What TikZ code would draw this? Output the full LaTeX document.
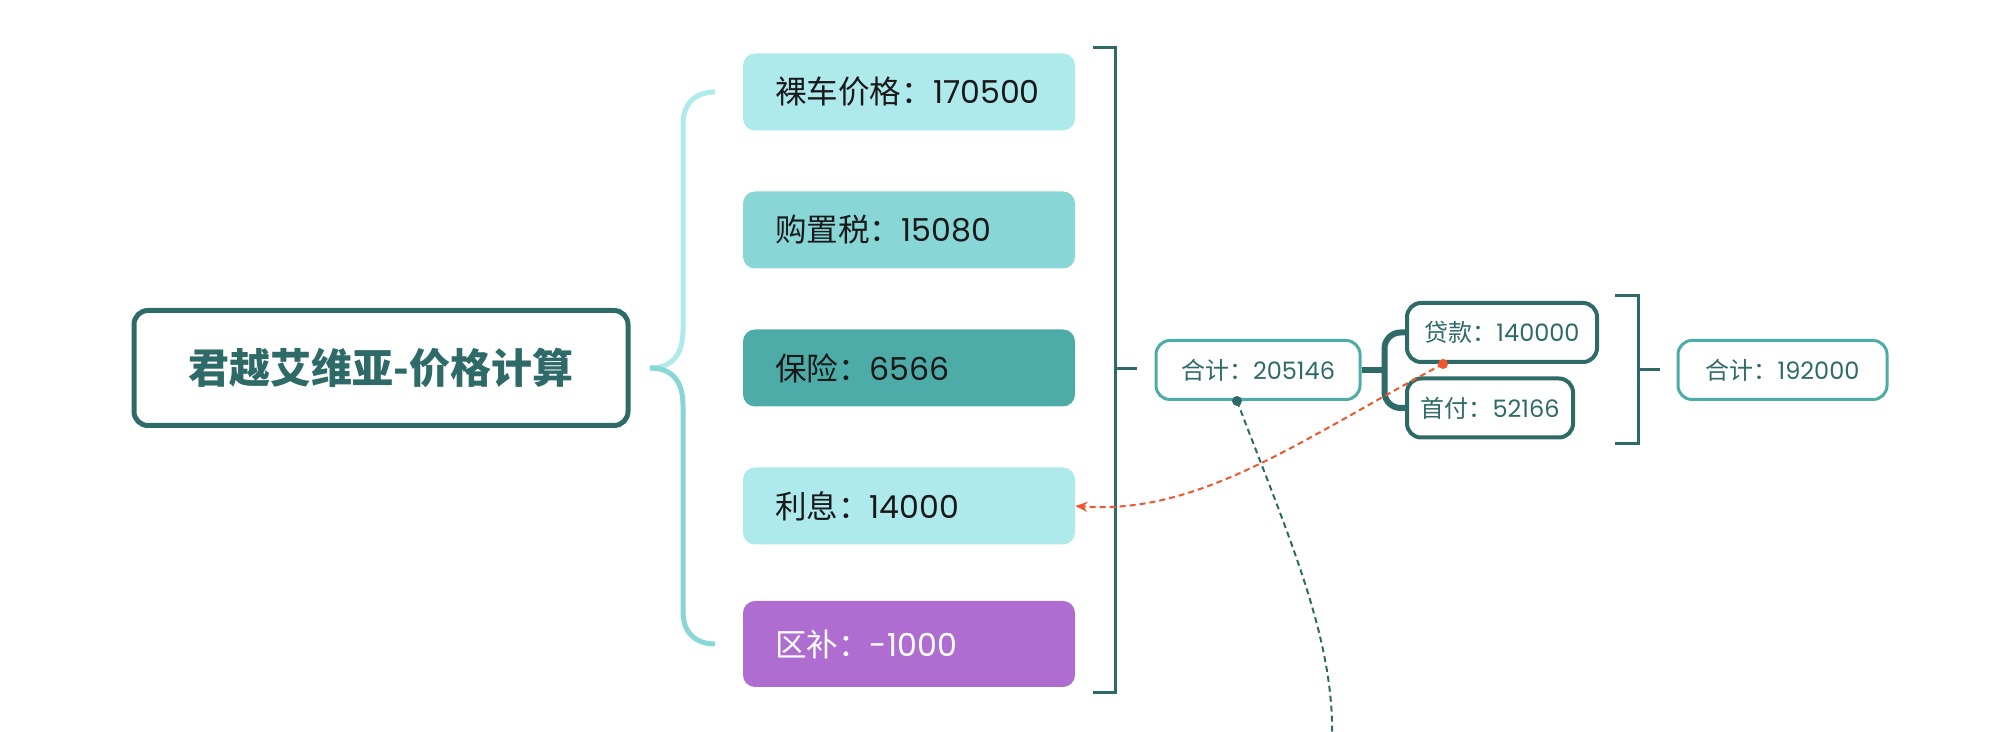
\documentclass[tikz,border=0pt]{standalone}
\usepackage{fontspec}
\setmainfont{Poppins}
\newfontfamily\cjk{Noto Sans CJK SC}
\usetikzlibrary{arrows.meta,calc}
\definecolor{deepteal}{HTML}{2E6A67}
\definecolor{midteal}{HTML}{4EACA8}
\definecolor{paleaqua}{HTML}{AEE9EC}
\definecolor{softaqua}{HTML}{88D6D6}
\definecolor{lilac}{HTML}{B06DD1}
\definecolor{linkred}{HTML}{F0552B}
\tikzstyle{root} = [rectangle, draw=deepteal, line width=2.5pt, rounded corners=7pt,
    minimum width=247pt, minimum height=57.5pt, text=deepteal,
    font=\fontsize{20.5pt}{24pt}\selectfont\cjk\bfseries]
\tikzstyle{cost} = [rectangle, rounded corners=6pt, text width=134pt, inner xsep=16pt,
    minimum height=38.5pt, align=left, text=black!90, font=\fontsize{15.8pt}{18pt}\selectfont]
\tikzstyle{total} = [rectangle, draw=midteal, line width=1.5pt, rounded corners=7pt,
    minimum height=29.5pt, inner xsep=0pt, text=deepteal, font=\fontsize{12pt}{14pt}\selectfont]
\tikzstyle{part} = [total, draw=deepteal, line width=2pt]
\tikzstyle{link} = [line width=1pt, dash pattern=on 3pt off 2pt]

\begin{document}
\begin{tikzpicture}[x=0.5pt,y=0.5pt,node distance=69pt,line cap=butt]
  \useasboundingbox (0,0) rectangle (2002,732);

  \node[root]                     (car)  at (381,364)       {君越艾维亚-价格计算};

  \node[cost, fill=paleaqua]      (bare) at (909,640)       {{\cjk 裸车价格：}170500};
  \node[cost, fill=softaqua]      (tax)  [below of=bare]    {{\cjk 购置税：}15080};
  \node[cost, fill=midteal]       (ins)  [below of=tax]     {{\cjk 保险：}6566};
  \node[cost, fill=paleaqua]      (interest) [below of=ins] {{\cjk 利息：}14000};
  \node[cost, fill=lilac, text=white, minimum height=43pt] (rebate) [below of=interest] {{\cjk 区补：}-1000};

  \node[total, minimum width=102pt]   (sum1) at (1258,362)  {{\cjk 合计：}205146};
  \node[part, minimum width=95pt]     (loan) at (1502,399.5) {{\cjk 贷款：}140000};
  \node[part, minimum width=83pt]     (down) at (1490,324)  {{\cjk 首付：}52166};
  \node[total, minimum width=104.5pt] (sum2) at (1782.5,362) {{\cjk 合计：}192000};

  \draw[paleaqua, line width=2.5pt] (715,640) .. controls (695,640) and (683,628) .. (683,608)
        -- (683,402) .. controls (683,375) and (670,364) .. (650,364);
  \draw[softaqua, line width=2.5pt] (650,364) .. controls (670,364) and (683,353) .. (683,327)
        -- (683,120) .. controls (683,100) and (695,88) .. (715,88);

  \draw[deepteal, line width=1.5pt] (1093,684) -- (1115,684) -- (1115,39) -- (1093,39);
  \coordinate (bigstub) at (1115,363);
  \draw[deepteal, line width=1.5pt] (bigstub) -- ++(22,0);

  \coordinate (fork) at ($(sum1.east)+(23,0)$);
  \draw[deepteal, line width=3pt] (sum1.east) -- (fork);
  \draw[deepteal, line width=3pt, rounded corners=8pt] (loan.west) -| (fork) |- (down.west);

  \draw[deepteal, line width=1.5pt] (1615,436) -- (1638,436) -- (1638,288) -- (1615,288);
  \coordinate (smallstub) at (1638,362);
  \draw[deepteal, line width=1.5pt] (smallstub) -- ++(22,0);

  \draw[link, linkred, -{Stealth[length=6pt,width=5pt]}] ([xshift=-29.5pt]loan.south)
        .. controls (1300,292) and (1200,217) .. (interest.east);
  \fill[linkred] ([xshift=-29.5pt]loan.south) circle (2.5pt);

  \coordinate (offcanvas) at (1332,-8);
  \draw[link, deepteal] ([xshift=-10.5pt]sum1.south)
        .. controls (1290,192) and (1335,92) .. (offcanvas);
  \fill[deepteal] ([xshift=-10.5pt]sum1.south) circle (2.5pt);
\end{tikzpicture}
\end{document}
